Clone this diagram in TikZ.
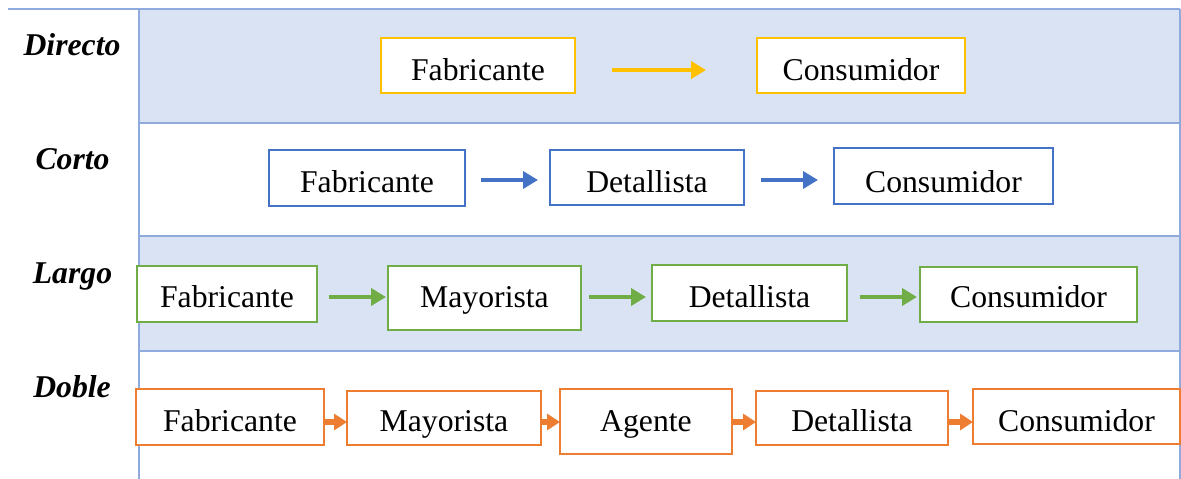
\documentclass[tikz,border=0pt]{standalone}
\usepackage{fontspec}
\setmainfont{Liberation Serif}
\usetikzlibrary{arrows.meta}
\definecolor{gridc}{HTML}{8FAADC}
\definecolor{bandc}{HTML}{DAE3F3}
\definecolor{yel}{HTML}{FFC000}
\definecolor{blu}{HTML}{4472C4}
\definecolor{gre}{HTML}{70AD47}
\definecolor{ora}{HTML}{ED7D31}
\tikzset{
  gridline/.style={draw=gridc, line width=2pt},
  band/.style={fill=bandc},
  rowlabel/.style={font=\fontsize{31.7}{38}\selectfont\bfseries\itshape, anchor=base, inner sep=0pt},
  chbox/.style n args={3}{draw=#1, line width=2.8pt, fill=white, inner sep=0pt, outer sep=0pt,
    anchor=base, font=\fontsize{31.7}{38}\selectfont, minimum width=#2, text height=#3},
  tdep/.style={text depth=#1},
  flow/.style={draw=#1, line width=4pt, -{Triangle[length=15pt,width=17pt]}},
  stub/.style={draw=#1, line width=6.5pt, -{Triangle[length=13pt,width=16pt]}},
}
\begin{document}
\begin{tikzpicture}[x=1pt,y=-1pt]
\useasboundingbox (0,0) rectangle (1181,479);
% bands
\fill[band] (139,9) rectangle (1180,122.5);
\fill[band] (139,236) rectangle (1180,350.5);
% grid
\draw[gridline] (8,9) -- (1180,9);
\draw[gridline] (139,9) -- (139,479);
\draw[gridline] (1180,9) -- (1180,479);
\draw[gridline] (139,122.5) -- (1180,122.5);
\draw[gridline] (139,236) -- (1180,236);
\draw[gridline] (139,350.5) -- (1180,350.5);
% row labels
\node[rowlabel] (lab1) at (72,55) {Directo};
\node[rowlabel] (lab2) at (72.5,169) {Corto};
\node[rowlabel] (lab3) at (72.5,283) {Largo};
\node[rowlabel] (lab4) at (72,397) {Doble};
% row 1
\node[chbox={yel}{194pt}{42pt}, tdep=13pt] (r1a) at (478,80) {Fabricante};
\node[chbox={yel}{208pt}{42pt}, tdep=13pt] (r1b) at (861,80) {Consumidor};
\draw[flow=yel, shorten <=37pt, shorten >=51pt] ([yshift=10pt]r1a.base east) -- ([yshift=10pt]r1b.base west);
% row 2
\node[chbox={blu}{196pt}{42pt}, tdep=14pt] (r2a) at (367,192) {Fabricante};
\node[chbox={blu}{194pt}{42pt}, tdep=13pt] (r2b) at (647,192) {Detallista};
\node[chbox={blu}{219pt}{44pt}, tdep=12pt] (r2c) at (943.5,192) {Consumidor};
\draw[flow=blu, shorten <=16pt, shorten >=12pt] ([yshift=12pt]r2a.base east) -- ([yshift=12pt]r2b.base west);
\draw[flow=blu, shorten <=17pt, shorten >=16pt] ([yshift=12pt]r2b.base east) -- ([yshift=12pt]r2c.base west);
% row 3
\node[chbox={gre}{180pt}{41pt}, tdep=15pt] (r3a) at (227,307) {Fabricante};
\node[chbox={gre}{193pt}{41pt}, tdep=23pt] (r3b) at (484.5,307) {Mayorista};
\node[chbox={gre}{195pt}{42pt}, tdep=14pt] (r3c) at (749.5,307) {Detallista};
\node[chbox={gre}{217pt}{40pt}, tdep=15pt] (r3d) at (1028.5,307) {Consumidor};
\draw[flow=gre, shorten <=12pt, shorten >=2pt] ([yshift=10pt]r3a.base east) -- ([yshift=10pt]r3b.base west);
\draw[flow=gre, shorten <=8pt, shorten >=6pt] ([yshift=10pt]r3b.base east) -- ([yshift=10pt]r3c.base west);
\draw[flow=gre, shorten <=13pt, shorten >=3pt] ([yshift=10pt]r3c.base east) -- ([yshift=10pt]r3d.base west);
% row 4
\node[chbox={ora}{188pt}{42pt}, tdep=14pt] (r4a) at (230,431) {Fabricante};
\node[chbox={ora}{194pt}{40pt}, tdep=14pt] (r4b) at (444,431) {Mayorista};
\node[chbox={ora}{172pt}{42pt}, tdep=23pt] (r4c) at (646,431) {Agente};
\node[chbox={ora}{192pt}{40pt}, tdep=14pt] (r4d) at (852,431) {Detallista};
\node[chbox={ora}{207pt}{42pt}, tdep=13pt] (r4e) at (1076.5,431) {Consumidor};
\draw[stub=ora] ([yshift=9pt]r4a.base east) -- ([yshift=9pt]r4b.base west);
\draw[stub=ora] ([yshift=9pt]r4b.base east) -- ([yshift=9pt]r4c.base west);
\draw[stub=ora] ([yshift=9pt]r4c.base east) -- ([yshift=9pt]r4d.base west);
\draw[stub=ora] ([yshift=9pt]r4d.base east) -- ([yshift=9pt]r4e.base west);
\end{tikzpicture}
\end{document}
